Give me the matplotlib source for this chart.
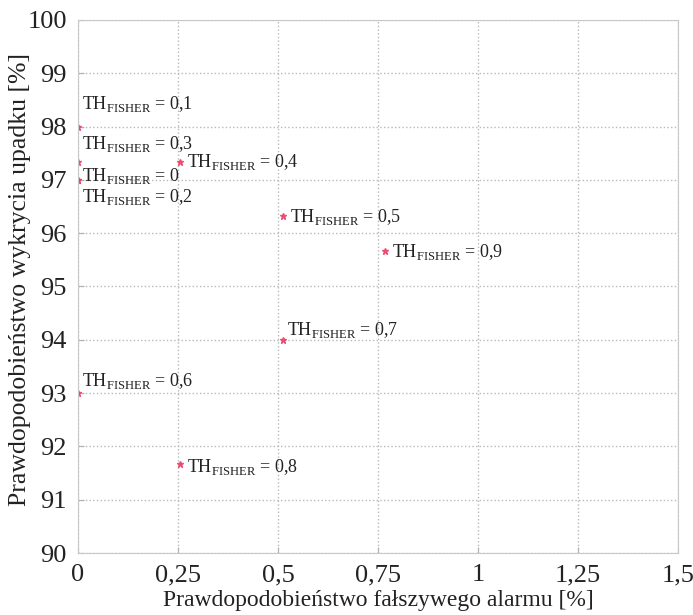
import numpy as np
import matplotlib
matplotlib.use("Agg")
import matplotlib.pyplot as plt

plt.rcParams['font.family'] = ['Liberation Serif', 'DejaVu Serif']
plt.rcParams['mathtext.fontset'] = 'custom'
plt.rcParams['mathtext.rm'] = 'Liberation Serif'

# dane: prog Fishera, P(falszywy alarm) [%], P(wykrycie upadku) [%]
progi = ["0", "0,1", "0,2", "0,3", "0,4", "0,5", "0,6", "0,7", "0,8", "0,9"]
p_fa = np.array([0.0, 0.0, 0.0, 0.0, 0.256, 0.513, 0.0, 0.513, 0.256, 0.769])
p_wyk = np.array([97.0, 98.0, 97.0, 97.33, 97.33, 96.33, 93.0, 94.0, 91.67, 95.67])

# przesuniecia etykiet (w punktach)
offs = {
    "0": (3, 3), "0,1": (3, 16), "0,2": (3, -12), "0,3": (3, 13),
    "0,4": (5, 0), "0,5": (5, -1), "0,6": (3, 9), "0,7": (3, 7),
    "0,8": (5, -2), "0,9": (5, -1),
}

xticks = [0, 0.25, 0.5, 0.75, 1, 1.25, 1.5]
xtick_lab = ["0", "0,25", "0,5", "0,75", "1", "1,25", "1,5"]
yticks = np.arange(90, 101, 1)

fig = plt.figure(figsize=(6.93, 6.15), dpi=100)
ax = fig.add_axes([0.1126, 0.1008, 0.978 - 0.1126, 0.9675 - 0.1008])

ax.plot(p_fa, p_wyk, '*', color='#ee3e64', ms=5, mec='#ee3e64', alpha=0.85,
        linestyle='none')

for i, th in enumerate(progi):
    ax.annotate(r"TH$_{\mathrm{FISHER}}$ = " + th, (p_fa[i], p_wyk[i]),
                xytext=offs[th], textcoords='offset points',
                fontsize=13, color='#222222', va='center', ha='left')

ax.set_xlim(0, 1.5)
ax.set_ylim(90, 100)
ax.set_xticks(xticks)
ax.set_xticklabels(xtick_lab)
ax.set_yticks(yticks)
ax.grid(True, linestyle=':', color='#b8b8b8', linewidth=1)
for s in ax.spines.values():
    s.set_color('#c8c8c8')
ax.tick_params(direction='in', colors='#b0b0b0', labelcolor='#222222',
               labelsize=19, length=4)
ax.tick_params(axis='x', pad=8)
ax.tick_params(axis='y', pad=8)
ax.set_xlabel("Prawdopodobieństwo fałszywego alarmu [%]", fontsize=17,
              color='#222222', labelpad=3)
ax.set_ylabel("Prawdopodobieństwo wykrycia upadku [%]", fontsize=18.5,
              color='#222222')
ax.yaxis.set_label_coords(-0.078, 0.514)

plt.savefig("out.png", dpi=100)
